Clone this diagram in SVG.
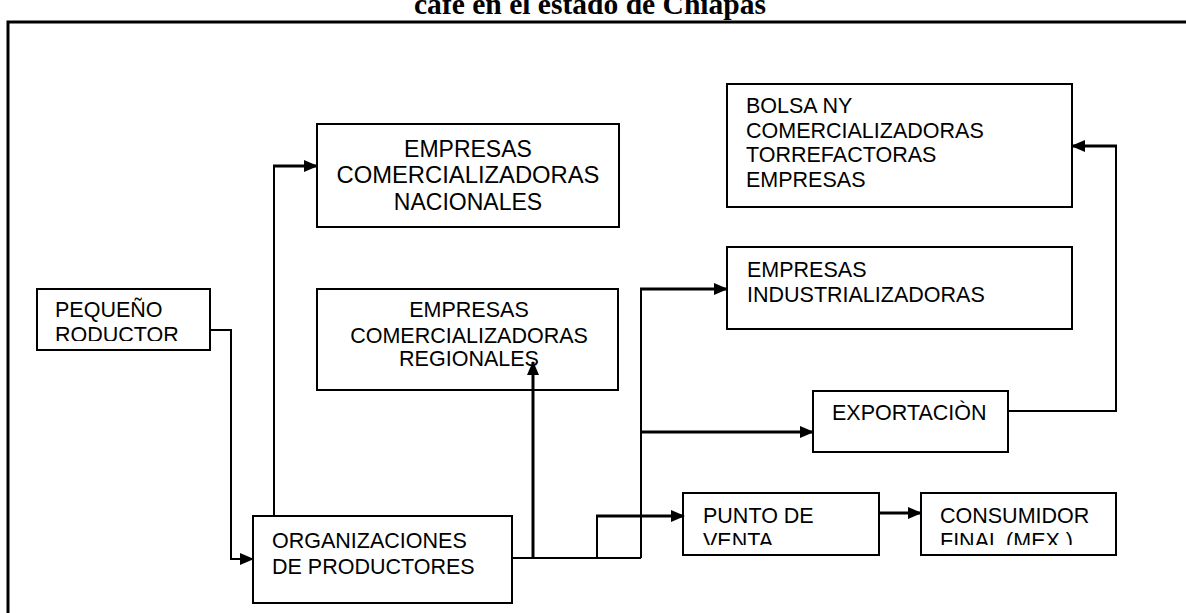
<svg xmlns="http://www.w3.org/2000/svg" width="1186" height="613" viewBox="0 0 1186 613">
<style>
.box{fill:#fff;stroke:#000;stroke-width:2}
.t{font-family:"Liberation Sans",Arial,sans-serif;font-size:21.5px;fill:#000}
.c{fill:none;stroke:#000;stroke-width:2}
.ck{fill:none;stroke:#000;stroke-width:3}
.title{font-family:"Liberation Serif","Times New Roman",serif;font-weight:bold;font-size:30px;fill:#000}
</style>
<defs>
<marker id="arr" markerUnits="userSpaceOnUse" markerWidth="14" markerHeight="12" refX="13" refY="6" orient="auto" viewBox="0 0 14 12">
<path d="M0,0 L14,6 L0,12 z" fill="#000"/>
</marker>
<clipPath id="clipTitle"><rect x="0" y="0" width="1186" height="21"/></clipPath>
<clipPath id="clipPeq"><rect x="38" y="290" width="171" height="51"/></clipPath>
<clipPath id="clipPunto"><rect x="684" y="494" width="194" height="51"/></clipPath>
<clipPath id="clipCons"><rect x="922" y="494" width="193" height="51"/></clipPath>
</defs>
<rect width="1186" height="613" fill="#fff"/>

<g id="title" clip-path="url(#clipTitle)">
<text class="title" x="414" y="14" textLength="352" lengthAdjust="spacingAndGlyphs">cafe en el estado de Chiapas</text>
</g>
<g id="frame">
<path d="M8,613 V22 H1186" fill="none" stroke="#000" stroke-width="3"/>
</g>

<g id="pequeno">
<rect class="box" x="37" y="289" width="173" height="61"/>
<g clip-path="url(#clipPeq)">
<text class="t" x="55" y="317">PEQUEÑO</text>
<text class="t" x="55" y="342">RODUCTOR</text>
</g>
</g>

<g id="organizaciones">
<rect class="box" x="253" y="516" width="259" height="87"/>
<text class="t" x="272" y="548">ORGANIZACIONES</text>
<text class="t" x="272" y="574">DE PRODUCTORES</text>
</g>

<g id="nacionales">
<rect class="box" x="317" y="124" width="302" height="103"/>
<text class="t" x="468" y="157" text-anchor="middle" style="font-size:23px">EMPRESAS</text>
<text class="t" x="468" y="183" text-anchor="middle" style="font-size:23px" textLength="263" lengthAdjust="spacingAndGlyphs">COMERCIALIZADORAS</text>
<text class="t" x="468" y="210" text-anchor="middle" style="font-size:23px">NACIONALES</text>
</g>

<g id="regionales">
<rect class="box" x="317" y="289" width="301" height="101"/>
<text class="t" x="469" y="317" text-anchor="middle">EMPRESAS</text>
<text class="t" x="469" y="343" text-anchor="middle">COMERCIALIZADORAS</text>
<text class="t" x="469" y="366" text-anchor="middle">REGIONALES</text>
</g>

<g id="bolsa">
<rect class="box" x="727" y="84" width="345" height="123"/>
<text class="t" x="746" y="113">BOLSA NY</text>
<text class="t" x="746" y="138">COMERCIALIZADORAS</text>
<text class="t" x="746" y="162">TORREFACTORAS</text>
<text class="t" x="746" y="187">EMPRESAS</text>
</g>

<g id="industrializadoras">
<rect class="box" x="727" y="247" width="345" height="82"/>
<text class="t" x="747" y="277">EMPRESAS</text>
<text class="t" x="747" y="302">INDUSTRIALIZADORAS</text>
</g>

<g id="exportacion">
<rect class="box" x="813" y="391" width="195" height="61"/>
<text class="t" x="832" y="420">EXPORTACIÒN</text>
</g>

<g id="punto">
<rect class="box" x="683" y="493" width="196" height="62"/>
<g clip-path="url(#clipPunto)">
<text class="t" x="703" y="523">PUNTO DE</text>
<text class="t" x="703" y="548">VENTA</text>
</g>
</g>

<g id="consumidor">
<rect class="box" x="921" y="493" width="195" height="62"/>
<g clip-path="url(#clipCons)">
<text class="t" x="940" y="523">CONSUMIDOR</text>
<text class="t" x="940" y="548">FINAL  (MEX.)</text>
</g>
</g>

<g id="connectors">
<path class="c" d="M210,330 H231 V559 H253" marker-end="url(#arr)"/>
<path class="c" d="M274,516 V166"/>
<path class="ck" d="M273,166 H317" marker-end="url(#arr)"/>
<path class="c" d="M512,558 H641"/>
<path class="ck" d="M533,558 V362" marker-end="url(#arr)"/>
<path class="c" d="M641,558 V289"/>
<path class="ck" d="M640,289 H727" marker-end="url(#arr)"/>
<path class="ck" d="M641,432 H813" marker-end="url(#arr)"/>
<path class="c" d="M597,558 V516"/>
<path class="ck" d="M596,516 H684" marker-end="url(#arr)"/>
<path class="ck" d="M879,513 H921" marker-end="url(#arr)"/>
<path class="c" d="M1008,411 H1116 V146"/>
<path class="ck" d="M1117,146 H1072" marker-end="url(#arr)"/>
</g>
</svg>
